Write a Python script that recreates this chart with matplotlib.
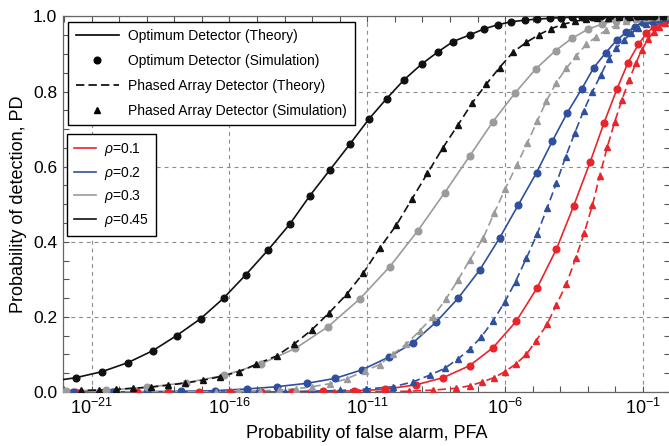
import numpy as np
import matplotlib
matplotlib.use('Agg')
import matplotlib.pyplot as plt
from matplotlib.lines import Line2D
from matplotlib.ticker import FixedLocator, FuncFormatter, MultipleLocator

plt.rcParams['font.family'] = ['Liberation Sans', 'DejaVu Sans']
plt.rcParams['mathtext.fontset'] = 'custom'
plt.rcParams['mathtext.rm'] = 'Liberation Sans'
plt.rcParams['mathtext.it'] = 'Liberation Sans:italic'

# log10(PFA) and PD, one pair per curve
# rho = 0.45
opt45_x = [-21.58, -20.63, -19.69, -18.78, -17.92, -17.05, -16.21, -15.41, -14.60, -13.81,
           -13.08, -12.36, -11.63, -10.95, -10.30, -9.67, -9.03, -8.43, -7.89, -7.28,
           -6.76, -6.26, -5.77, -5.29, -4.83, -4.38, -3.96, -3.57, -3.22, -2.86,
           -2.53, -2.20, -1.88, -1.55, -1.23, -0.90, -0.58, -0.26]
opt45_y = [0.038, 0.054, 0.078, 0.110, 0.150, 0.195, 0.250, 0.312, 0.378, 0.447,
           0.523, 0.591, 0.660, 0.726, 0.781, 0.831, 0.873, 0.906, 0.933, 0.951,
           0.967, 0.978, 0.986, 0.990, 0.993, 0.995, 0.997, 0.998, 0.999, 0.999,
           1.0, 1.0, 1.0, 1.0, 1.0, 1.0, 1.0, 1.0]
pa45_x = [-21.38, -20.75, -20.12, -19.49, -18.86, -18.23, -17.60, -16.97, -16.34, -15.65,
          -15.02, -14.29, -13.65, -13.02, -12.38, -11.75, -11.15, -10.55, -9.94, -9.37,
          -8.82, -8.25, -7.71, -7.19, -6.68, -6.20, -5.71, -5.23, -4.78, -4.35,
          -3.90, -3.48, -3.08, -2.68, -2.28, -1.88, -1.48, -1.08, -0.68, -0.28]
pa45_y = [0.004, 0.005, 0.007, 0.010, 0.013, 0.018, 0.024, 0.031, 0.041, 0.054,
          0.074, 0.096, 0.128, 0.165, 0.211, 0.260, 0.316, 0.383, 0.445, 0.515,
          0.582, 0.651, 0.711, 0.770, 0.820, 0.864, 0.905, 0.931, 0.951, 0.967,
          0.979, 0.987, 0.992, 0.995, 0.997, 0.998, 0.999, 1.0, 1.0, 1.0]
# rho = 0.3
opt30_x = [-21.93, -20.47, -18.99, -17.56, -16.20, -14.85, -13.61, -12.42, -11.27, -10.18,
           -9.16, -8.19, -7.28, -6.44, -5.63, -4.89, -4.17, -3.57, -2.99, -2.47,
           -1.99, -1.56, -1.16, -0.76, -0.36]
opt30_y = [0.003, 0.005, 0.0125, 0.025, 0.044, 0.075, 0.116, 0.174, 0.248, 0.334,
           0.430, 0.531, 0.629, 0.720, 0.797, 0.860, 0.909, 0.942, 0.966, 0.980,
           0.989, 0.994, 0.997, 0.999, 1.0]
pa30_x = [-16.5, -15.7, -14.9, -14.2, -13.6, -13.02, -12.36, -11.75, -11.09, -10.55,
          -10.08, -9.58, -9.10, -8.61, -8.15, -7.71, -7.28, -6.80, -6.40, -6.00,
          -5.58, -5.19, -4.83, -4.50, -4.14, -3.78, -3.41, -3.05, -2.69, -2.33,
          -1.96, -1.60, -1.24, -0.88, -0.51, -0.15]
pa30_y = [0.001, 0.002, 0.003, 0.005, 0.008, 0.014, 0.022, 0.035, 0.056, 0.073,
          0.100, 0.128, 0.163, 0.201, 0.247, 0.298, 0.352, 0.409, 0.476, 0.540,
          0.604, 0.664, 0.722, 0.775, 0.824, 0.862, 0.896, 0.926, 0.946, 0.964,
          0.977, 0.987, 0.993, 0.997, 0.999, 1.0]
# rho = 0.2
opt20_x = [-21.68, -20.26, -18.99, -17.74, -16.53, -15.38, -14.29, -13.20, -12.18, -11.19,
           -10.22, -9.34, -8.49, -7.70, -6.92, -6.20, -5.53, -4.86, -4.28, -3.74,
           -3.22, -2.78, -2.34, -1.95, -1.60, -1.28, -1.02, -0.75, -0.50, -0.25]
opt20_y = [0.0003, 0.0005, 0.001, 0.002, 0.0035, 0.008, 0.014, 0.023, 0.036, 0.059,
           0.093, 0.131, 0.187, 0.250, 0.325, 0.410, 0.497, 0.584, 0.669, 0.744,
           0.807, 0.864, 0.904, 0.937, 0.958, 0.973, 0.984, 0.991, 0.995, 0.998]
pa20_x = [-15.0, -14.0, -13.0, -12.0, -11.03, -10.06, -9.34, -8.73, -8.19, -7.71,
          -7.28, -6.86, -6.44, -6.01, -5.62, -5.23, -4.84, -4.48, -4.14, -3.80,
          -3.47, -3.15, -2.83, -2.53, -2.24, -1.96, -1.69, -1.42, -1.16, -0.90,
          -0.65, -0.40, -0.14]
pa20_y = [0.0005, 0.001, 0.002, 0.004, 0.008, 0.014, 0.027, 0.045, 0.063, 0.088,
          0.114, 0.147, 0.189, 0.240, 0.294, 0.356, 0.420, 0.489, 0.556, 0.627,
          0.690, 0.749, 0.800, 0.844, 0.887, 0.915, 0.937, 0.955, 0.970, 0.981,
          0.989, 0.994, 0.997]
# rho = 0.1
opt10_x = [-21.60, -20.48, -19.35, -18.23, -17.11, -15.98, -14.86, -13.74, -12.61, -11.49,
           -10.37, -9.24, -8.25, -7.29, -6.44, -5.60, -4.84, -4.14, -3.51, -2.91,
           -2.41, -1.94, -1.54, -1.16, -0.87, -0.60, -0.36, -0.15]
opt10_y = [0.0, 0.0, 0.0, 0.0001, 0.0001, 0.0002, 0.0003, 0.0007, 0.0015, 0.003,
           0.007, 0.019, 0.038, 0.070, 0.118, 0.188, 0.277, 0.380, 0.496, 0.613,
           0.717, 0.807, 0.877, 0.926, 0.955, 0.973, 0.985, 0.991]
pa10_x = [-13.1, -12.2, -11.3, -10.4, -9.5, -8.61, -7.77, -7.26, -6.82, -6.41,
          -6.01, -5.62, -5.23, -4.87, -4.48, -4.14, -3.78, -3.44, -3.13, -2.83,
          -2.57, -2.29, -2.02, -1.76, -1.50, -1.26, -1.04, -0.82, -0.61, -0.40,
          -0.20]
pa10_y = [0.0001, 0.0002, 0.0005, 0.001, 0.002, 0.005, 0.010, 0.017, 0.027, 0.038,
          0.054, 0.074, 0.100, 0.137, 0.180, 0.232, 0.287, 0.356, 0.423, 0.498,
          0.575, 0.653, 0.720, 0.778, 0.831, 0.875, 0.911, 0.939, 0.959, 0.973,
          0.983]

# theory curves run a little past the markers to the plot edges
edge_left = {'opt45': 0.033, 'pa45': 0.003, 'opt30': 0.002, 'pa30': 0.0,
             'opt20': 0.0002, 'pa20': 0.0, 'opt10': 0.0, 'pa10': 0.0}
edge_right = {'opt45': 1.0, 'pa45': 1.0, 'opt30': 1.0, 'pa30': 1.0,
              'opt20': 0.999, 'pa20': 0.998, 'opt10': 0.994, 'pa10': 0.988}

rhos = ['0.1', '0.2', '0.3', '0.45']
colors = {'0.1': '#e8252b', '0.2': '#2f4f9f', '0.3': '#9b9b9b', '0.45': '#111111'}

curves = [
    ('opt10', '0.1', opt10_x, opt10_y, '-', 'o'),
    ('pa10', '0.1', pa10_x, pa10_y, '--', '^'),
    ('opt20', '0.2', opt20_x, opt20_y, '-', 'o'),
    ('pa20', '0.2', pa20_x, pa20_y, '--', '^'),
    ('opt30', '0.3', opt30_x, opt30_y, '-', 'o'),
    ('pa30', '0.3', pa30_x, pa30_y, '--', '^'),
    ('opt45', '0.45', opt45_x, opt45_y, '-', 'o'),
    ('pa45', '0.45', pa45_x, pa45_y, '--', '^'),
]

X_LEFT = -22.05
X_RIGHT = 0.0

fig = plt.figure(figsize=(6.69, 4.46), dpi=100)
ax = fig.add_axes([0.0937, 0.1211, 0.9085, 0.842])

for key, rho, xs, ys, ls, mk in curves:
    c = colors[rho]
    lx = np.r_[X_LEFT, xs, X_RIGHT]
    ly = np.r_[edge_left[key], ys, edge_right[key]]
    if ls == '--':
        ax.plot(10.0 ** lx, ly, color=c, lw=1.2, linestyle=(0, (5, 2.5)), zorder=3)
        ax.plot(10.0 ** np.array(xs), ys, linestyle='none', marker='^', ms=4.6,
                color=c, zorder=4)
    else:
        ax.plot(10.0 ** lx, ly, color=c, lw=1.2, zorder=3)
        ax.plot(10.0 ** np.array(xs), ys, linestyle='none', marker='o', ms=4.8,
                color=c, zorder=4)

ax.set_xscale('log')
ax.set_xlim(10.0 ** X_LEFT, 10.0 ** X_RIGHT)
ax.set_ylim(0, 1)

labeled = [-21, -16, -11, -6, -1]
ax.xaxis.set_major_locator(FixedLocator([10.0 ** e for e in labeled]))
ax.xaxis.set_minor_locator(FixedLocator([10.0 ** e for e in range(-22, 1) if e not in labeled]))
ax.xaxis.set_major_formatter(FuncFormatter(lambda v, p: r'$10^{%d}$' % round(np.log10(v))))
ax.xaxis.set_minor_formatter(FuncFormatter(lambda v, p: ''))
ax.yaxis.set_major_locator(MultipleLocator(0.2))
ax.yaxis.set_minor_locator(MultipleLocator(0.05))
ax.yaxis.set_major_formatter(FuncFormatter(lambda v, p: '%.1f' % v))

ax.tick_params(which='both', direction='in', top=True, right=True, length=4.0,
               width=0.8, color='#555555', labelsize=12.5, pad=4)
ax.tick_params(axis='x', labelsize=13)
ax.grid(True, which='major', color='#8c8c8c', linestyle=(0, (3.5, 3.5)), lw=0.8)
for s in ax.spines.values():
    s.set_color('#666666')
    s.set_linewidth(0.9)

ax.set_xlabel('Probability of false alarm, PFA', fontsize=13, labelpad=5)
ax.set_ylabel('Probability of detection, PD', fontsize=13, labelpad=4)

# legend for detector type
h1 = [Line2D([], [], color='black', lw=1.2),
      Line2D([], [], color='black', linestyle='none', marker='o', ms=4.8),
      Line2D([], [], color='black', lw=1.2, linestyle=(0, (5, 2.5))),
      Line2D([], [], color='black', linestyle='none', marker='^', ms=4.6)]
l1 = ax.legend(h1, ['Optimum Detector (Theory)', 'Optimum Detector (Simulation)',
                    'Phased Array Detector (Theory)', 'Phased Array Detector (Simulation)'],
               loc='upper left', bbox_to_anchor=(0.0087, 0.986), borderaxespad=0,
               fontsize=10, handlelength=3.1, handletextpad=0.7, labelspacing=0.78,
               borderpad=0.55, fancybox=False, framealpha=1, edgecolor='black', numpoints=1)
l1.get_frame().set_linewidth(1.0)
l1.set_zorder(10)
ax.add_artist(l1)

# legend for rho
h2 = [Line2D([], [], color=colors[r], lw=1.2) for r in rhos]
l2 = ax.legend(h2, [r'$\rho$=' + r for r in rhos], loc='upper left',
               bbox_to_anchor=(0.007, 0.687), borderaxespad=0, fontsize=10,
               handlelength=1.6, handletextpad=0.6, labelspacing=0.48, borderpad=0.5,
               fancybox=False, framealpha=1, edgecolor='black')
l2.get_frame().set_linewidth(1.0)
l2.set_zorder(10)

fig.savefig('out.png', dpi=100)
